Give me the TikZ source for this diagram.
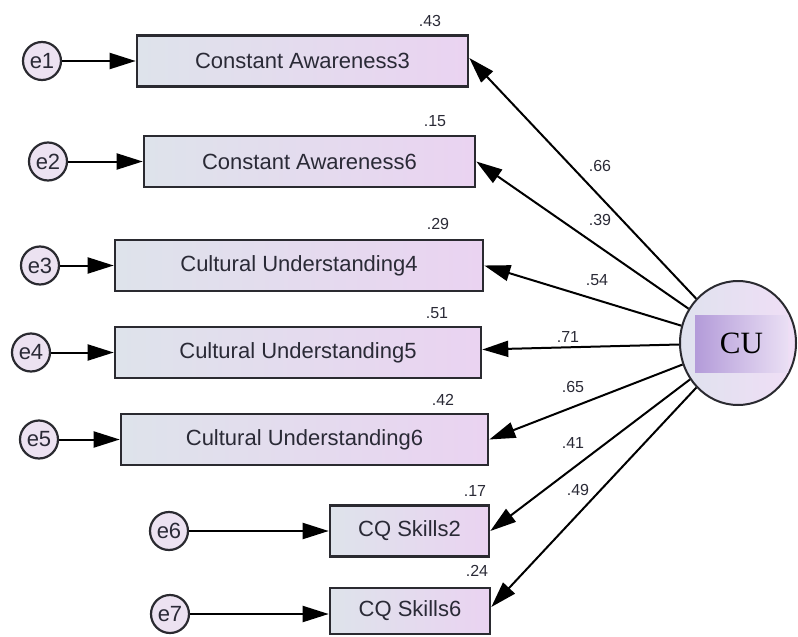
\documentclass[tikz,border=0pt]{standalone}
\usepackage{fontspec}
\setmainfont{Liberation Sans}
\newfontfamily\cuserif{Liberation Serif}
\usetikzlibrary{arrows.meta,shapes.geometric}

\definecolor{boxL}{HTML}{DEE3EB}
\definecolor{boxR}{HTML}{EAD3F1}
\definecolor{errfill}{HTML}{ECE2F1}
\definecolor{edgecol}{HTML}{2A2A30}
\definecolor{txt}{HTML}{2A2A36}
\definecolor{latL}{HTML}{DFE2EE}
\definecolor{latR}{HTML}{F0DEF6}
\definecolor{tagL}{HTML}{B39BD9}
\definecolor{tagM}{HTML}{D2C2EA}
\definecolor{tagR}{HTML}{EADFF4}

\begin{document}
\begin{tikzpicture}[x=1pt,y=-1pt,
  obs/.style={rectangle, draw=edgecol, line width=2.6pt, inner sep=0pt,
    minimum height=51pt, left color=boxL, right color=boxR,
    text=txt, font=\fontsize{22}{24}\selectfont},
  err/.style={circle, draw=edgecol, line width=2.2pt, inner sep=0pt,
    minimum size=38pt, fill=errfill, text=txt,
    font=\fontsize{22}{24}\selectfont},
  link/.style={line width=2pt, draw=black,
    -{Triangle[length=26pt,width=16pt]}},
  coef/.style={inner sep=0pt, text=txt, font=\fontsize{16}{18}\selectfont}
]
\useasboundingbox (0,0) rectangle (798,637);

% observed indicators
\node[obs, minimum width=331pt] (ca3) at (302.5,61)   {Constant Awareness3};
\node[obs, minimum width=331pt] (ca6) at (309.5,161.5) {Constant Awareness6};
\node[obs, minimum width=368pt] (cu4) at (299,265.5)  {Cultural Understanding4};
\node[obs, minimum width=366pt] (cu5) at (298,352.5)  {Cultural Understanding5};
\node[obs, minimum width=367pt] (cu6) at (304.5,439.5) {Cultural Understanding6};
\node[obs, minimum width=159pt] (cq2) at (409.5,531)  {CQ Skills2};
\node[obs, minimum width=160pt, minimum height=46pt] (cq6) at (410,611) {CQ Skills6};

% error terms
\node[err] (e1) at (42,61)    {e1};
\node[err] (e2) at (48,161.5) {e2};
\node[err] (e3) at (40,265.5) {e3};
\node[err] (e4) at (31,352.5) {e4};
\node[err] (e5) at (39,439.5) {e5};
\node[err] (e6) at (169,531)  {e6};
\node[err] (e7) at (170,614)  {e7};

% latent factor
\node[ellipse, draw=edgecol, line width=2pt, minimum width=116pt,
  minimum height=124pt, left color=latL, right color=latR] (cu) at (738,343) {};
\node[rectangle, inner sep=0pt, minimum width=93pt, minimum height=57pt,
  left color=tagL, middle color=tagM, right color=tagR,
  font=\cuserif\fontsize{31}{33}\selectfont, text=black] (cutag) at (741.5,343.5) {CU};

% error paths
\draw[link] (e1) -- (ca3.west);
\draw[link] (e2) -- (ca6.west);
\draw[link] (e3) -- (cu4.west);
\draw[link] (e4) -- (cu5.west);
\draw[link] (e5) -- (cu6.west);
\draw[link] (e6) -- (cq2.west);
\draw[link] (e7) -- (e7 -| cq6.west);

% factor loadings
\draw[link] (cu) -- ([yshift=3pt]ca3.east);
\draw[link] (cu) -- (ca6.east);
\draw[link] (cu) -- (cu4.east);
\draw[link] (cu) -- ([yshift=3pt]cu5.east);
\draw[link] (cu) -- (cu6.east);
\draw[link] (cu) -- (cq2.east);
\draw[link] (cu) -- ([yshift=4pt]cq6.east);

% squared multiple correlations
\node[coef] (r1) at (430,21)  {.43};
\node[coef] (r2) at (435,121) {.15};
\node[coef] (r3) at (438,224) {.29};
\node[coef] (r4) at (437,313) {.51};
\node[coef] (r5) at (443,400) {.42};
\node[coef] (r6) at (475,491) {.17};
\node[coef] (r7) at (477,571) {.24};

% loading values
\node[coef] (l1) at (600,166) {.66};
\node[coef] (l2) at (600,220) {.39};
\node[coef] (l3) at (597,280) {.54};
\node[coef] (l4) at (568,337) {.71};
\node[coef] (l5) at (573,387) {.65};
\node[coef] (l6) at (573,443) {.41};
\node[coef] (l7) at (578,490) {.49};
\end{tikzpicture}
\end{document}
